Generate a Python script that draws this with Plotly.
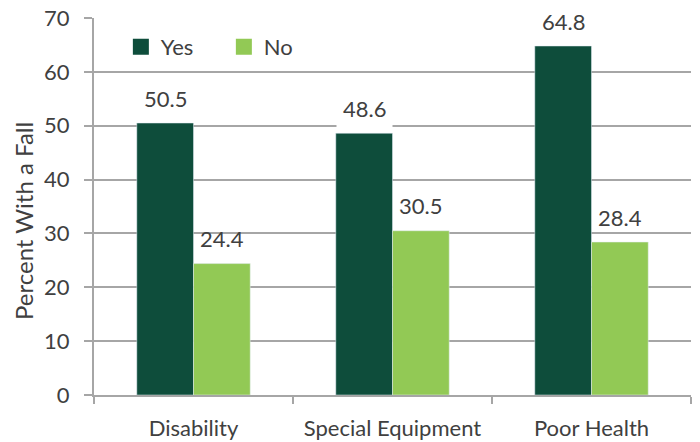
import plotly.graph_objects as go

categories = ["Disability", "Special Equipment", "Poor Health"]
yes_values = [50.5, 48.6, 64.8]
no_values = [24.4, 30.5, 28.4]
series_names = ["Yes", "No"]
y_ticks = [0, 10, 20, 30, 40, 50, 60, 70]
y_title = "Percent With a Fall"

DARK = "#0E4D3B"
LIGHT = "#92C955"
TEXT = "#404040"
GRID = "#A6A6A6"
FONT = "Lato"
FS = 22

fig = go.Figure()
fig.add_trace(go.Bar(name=series_names[0], x=categories, y=yes_values, marker_color=DARK,
                     offsetgroup="a", showlegend=False))
fig.add_trace(go.Bar(name=series_names[1], x=categories, y=no_values, marker_color=LIGHT,
                     offsetgroup="b", showlegend=False))
# legend entries with larger square swatches
for name, col in zip(series_names, (DARK, LIGHT)):
    fig.add_trace(go.Scatter(name=name, x=[None], y=[None], mode="markers",
                             marker=dict(symbol="square", size=16, color=col)))

# value labels ("Yes" labels have a white box that hides the gridline behind them)
bar_half = 28
for vals, shift, bg in ((yes_values, -bar_half, "white"), (no_values, bar_half, "rgba(0,0,0,0)")):
    for c, v in zip(categories, vals):
        fig.add_annotation(x=c, y=v, text=f"{v:.1f}", showarrow=False,
                           xshift=shift, yshift=25, yanchor="middle",
                           bgcolor=bg, borderpad=6,
                           font=dict(family=FONT, size=FS, color=TEXT))

# y-axis title
fig.add_annotation(text=y_title, xref="paper", yref="paper", x=-0.117, y=0.462,
                   textangle=-90, showarrow=False, xanchor="center", yanchor="middle",
                   font=dict(family=FONT, size=24, color=TEXT))

fig.update_layout(
    width=700, height=442,
    margin=dict(l=86, r=17, t=10, b=55, autoexpand=False),
    paper_bgcolor="white", plot_bgcolor="white",
    barmode="group", bargap=0.43, bargroupgap=0,
    font=dict(family=FONT, size=FS, color=TEXT),
    showlegend=True,
    legend=dict(orientation="h", x=0.045, y=0.923, xanchor="left", yanchor="middle",
                font=dict(family=FONT, size=FS, color=TEXT), bgcolor="rgba(0,0,0,0)",
                itemwidth=30, entrywidth=58, traceorder="normal"),
)
fig.update_xaxes(
    automargin=False,
    showline=True, linecolor=GRID, linewidth=2,
    ticks="outside", tickson="boundaries", ticklen=7, tickwidth=2, tickcolor=GRID,
    ticklabelstandoff=13, tickfont=dict(family=FONT, size=FS, color=TEXT),
    ticklabeloverflow="allow",
    showgrid=False,
)
fig.update_yaxes(
    automargin=False,
    range=[0, 70], tickvals=y_ticks,
    showline=True, linecolor=GRID, linewidth=2,
    ticks="outside", ticklen=8, tickwidth=2, tickcolor=GRID,
    showgrid=True, gridcolor=GRID, gridwidth=2, zeroline=False,
    ticklabelstandoff=10, tickfont=dict(family=FONT, size=FS, color=TEXT),
    ticklabeloverflow="allow",
)

fig.write_html("out.html")
